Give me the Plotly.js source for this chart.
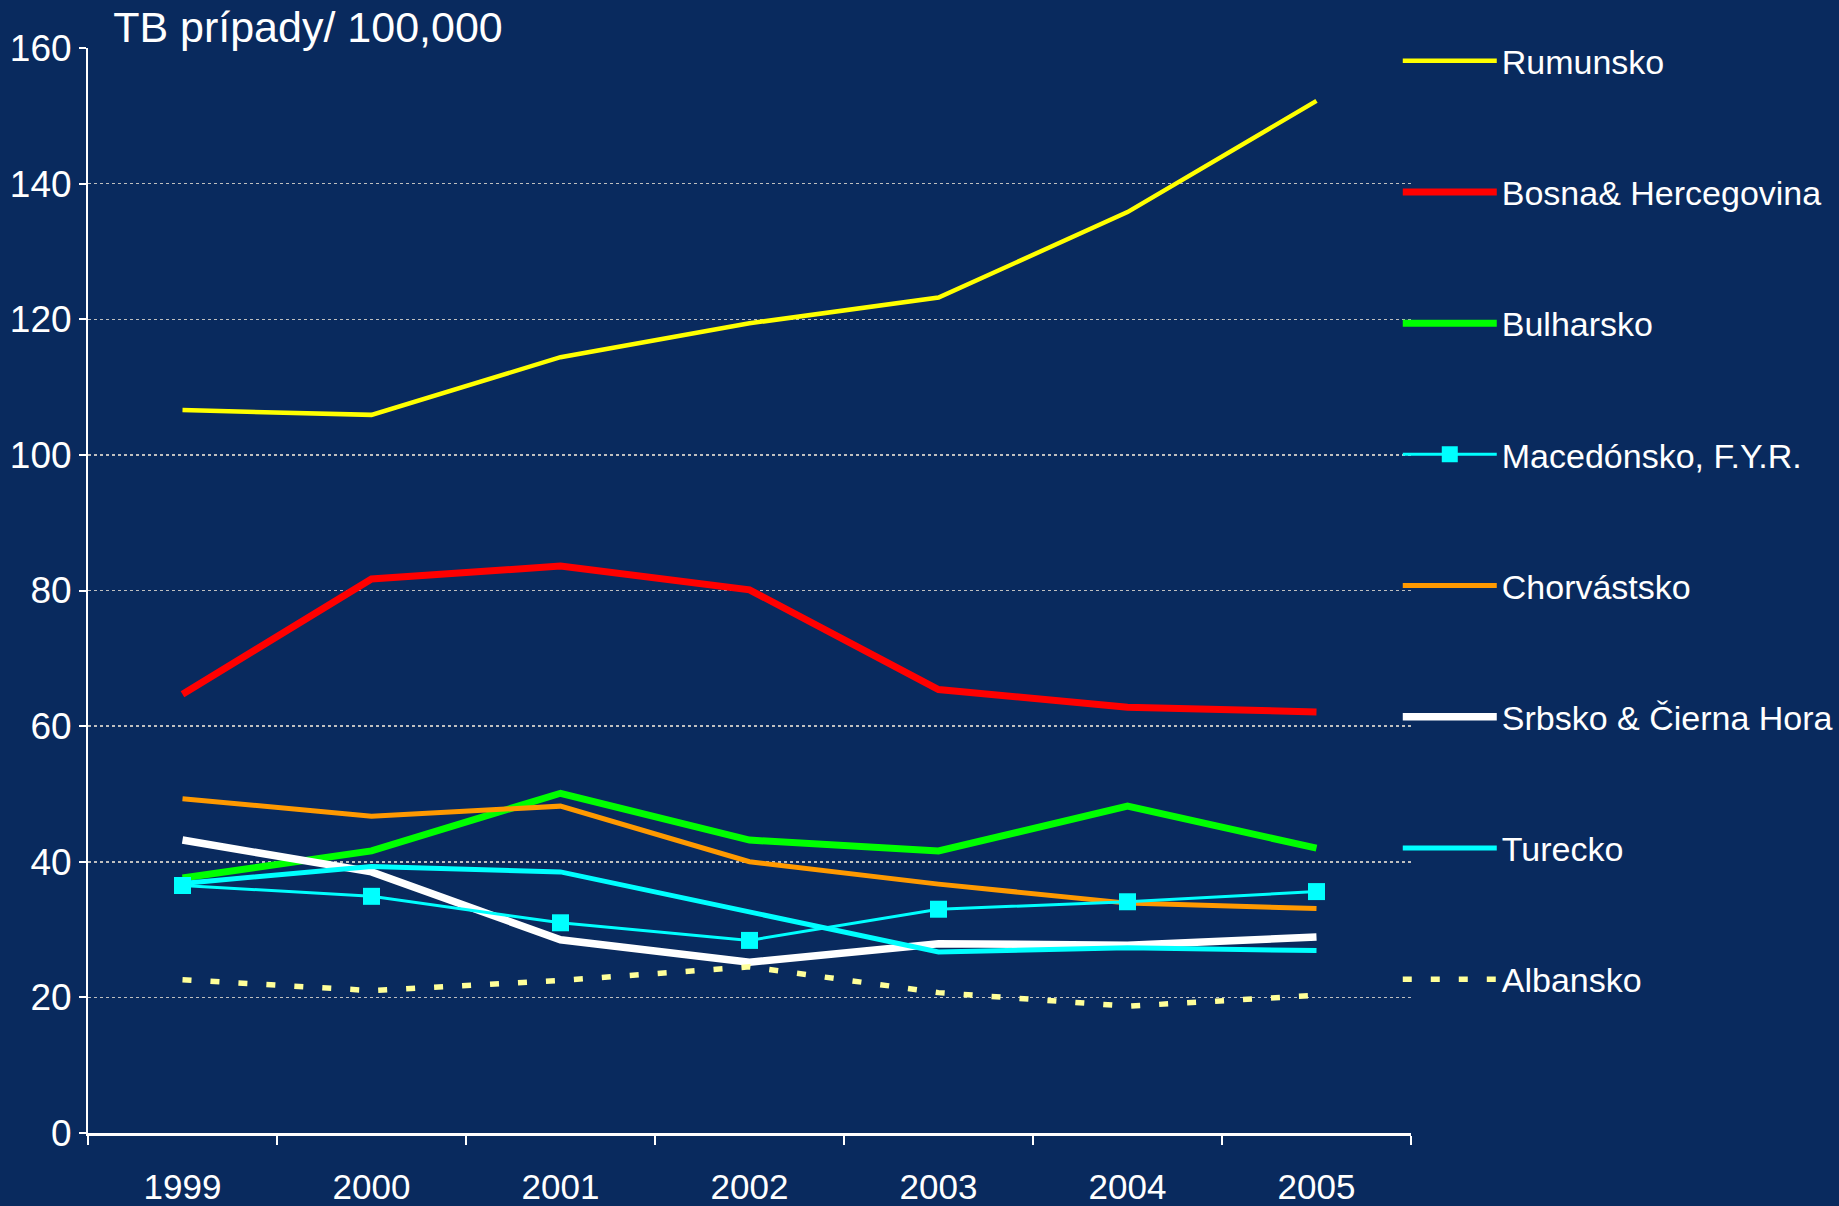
<!DOCTYPE html>
<html>
<head>
<meta charset="utf-8">
<script src="https://cdn.plot.ly/plotly-3.0.1.min.js"></script>
<style>html,body{margin:0;padding:0;background:#092A5E;overflow:hidden;}</style>
</head>
<body>
<div id="chart" style="width:1839px;height:1206px;"></div>
<script>
const years = ["1999","2000","2001","2002","2003","2004","2005"];
const rumunsko   = [106.6, 105.9, 114.4, 119.4, 123.2, 135.8, 152.2];
const bosna      = [64.7, 81.7, 83.6, 80.1, 65.4, 62.8, 62.1];
const bulharsko  = [37.6, 41.6, 50.1, 43.2, 41.6, 48.2, 42.0];
const macedonsko = [36.5, 34.9, 31.0, 28.4, 33.0, 34.1, 35.6];
const chorvatsko = [49.3, 46.7, 48.2, 40.0, 36.7, 33.9, 33.1];
const srbsko     = [43.2, 38.5, 28.5, 25.2, 27.9, 27.7, 28.9];
const turecko    = [36.8, 39.3, 38.5, 32.6, 26.7, 27.3, 26.9];
const albansko   = [22.6, 21.0, 22.5, 24.5, 20.7, 18.7, 20.3];
const yTicks = [0, 20, 40, 60, 80, 100, 120, 140, 160];

function tr(name, y, color, width, rank, extra) {
  return Object.assign({
    type: "scatter", mode: "lines", x: years, y: y, name: name,
    line: {color: color, width: width},
    legendgroup: "g" + rank, legendrank: rank, hoverinfo: "skip"
  }, extra || {});
}

const data = [
  tr("Rumunsko", rumunsko, "#FFFF00", 4.5, 1),
  tr("Bosna& Hercegovina", bosna, "#FF0000", 7, 2),
  tr("Bulharsko", bulharsko, "#00FF00", 7, 3),
  tr("Chorvástsko", chorvatsko, "#FF9900", 5, 5),
  tr("Srbsko & Čierna Hora", srbsko, "#FFFFFF", 7.5, 6),
  tr("Turecko", turecko, "#00FFFF", 5, 7),
  tr("Albansko", albansko, "#FFFF99", 5, 8, {line: {color: "#FFFF99", width: 5.5, dash: "9px,19px"}}),
  tr("Macedónsko, F.Y.R.", macedonsko, "#00FFFF", 3, 4,
     {mode: "lines+markers", marker: {symbol: "square", size: 17, color: "#00FFFF"}})
];

const font = "Liberation Sans, Arial, sans-serif";
const layout = {
  width: 1839, height: 1206,
  paper_bgcolor: "#092A5E", plot_bgcolor: "#092A5E",
  margin: {l: 88, r: 428, t: 48, b: 73, pad: 0, autoexpand: false},
  font: {family: font, color: "#FFFFFF"},
  title: {text: "TB prípady/ 100,000", font: {size: 43, color: "#FFFFFF", family: font},
          xref: "paper", x: 0.019, xanchor: "left", yref: "container", y: 0.978, yanchor: "middle"},
  xaxis: {
    type: "category", range: [-0.5, 6.5], tickson: "boundaries",
    ticks: "outside", ticklen: 9, tickwidth: 2, tickcolor: "#FFFFFF",
    showline: true, linecolor: "#FFFFFF", linewidth: 3,
    showgrid: false, zeroline: false, automargin: false,
    tickfont: {size: 35, color: "#FFFFFF", family: font},
    ticklabelstandoff: 21, fixedrange: true
  },
  yaxis: {
    range: [0, 160], tickvals: yTicks, ticktext: yTicks.map(String),
    ticks: "outside", ticklen: 7, tickwidth: 2, tickcolor: "#FFFFFF",
    showline: true, linecolor: "#FFFFFF", linewidth: 2,
    showgrid: true, gridcolor: "#BFBFBF", gridwidth: 1.5, griddash: "dot",
    zeroline: false, automargin: false,
    tickfont: {size: 37, color: "#FFFFFF", family: font},
    fixedrange: true
  },
  showlegend: true,
  legend: {
    x: 0.990, xanchor: "left", xref: "paper",
    y: 1.0146, yanchor: "top", yref: "paper",
    bgcolor: "rgba(0,0,0,0)", borderwidth: 0,
    font: {size: 34, color: "#FFFFFF", family: font},
    tracegroupgap: 84, itemwidth: 94, traceorder: "grouped",
    maxheight: 1.0
  }
};

Plotly.newPlot("chart", data, layout, {staticPlot: true, displayModeBar: false});
</script>
</body>
</html>
